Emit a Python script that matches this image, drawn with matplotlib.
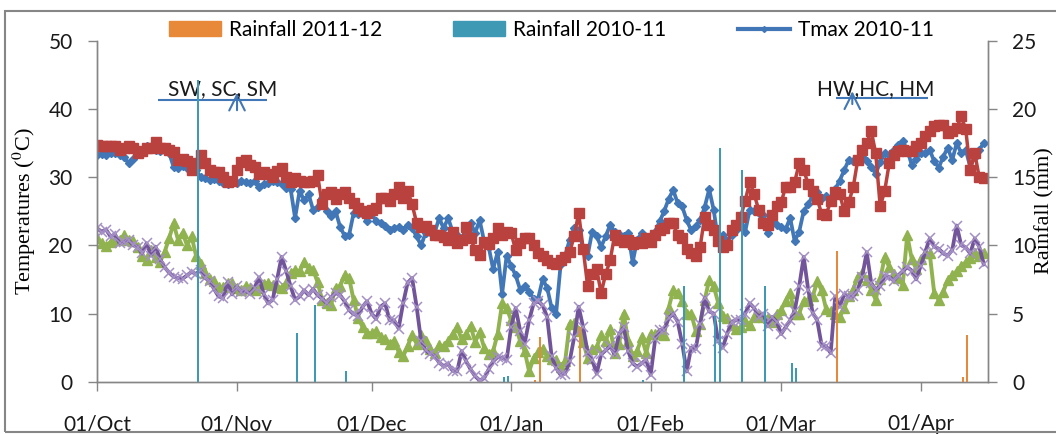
import numpy as np
import pandas as pd
import matplotlib
matplotlib.use('Agg')
import matplotlib.pyplot as plt
from matplotlib.patches import Patch, Rectangle
from matplotlib.lines import Line2D

plt.rcParams['font.family'] = ['Lato', 'DejaVu Sans']
plt.rcParams['mathtext.fontset'] = 'stix'

# day 0 = 01/Oct
start = pd.Timestamp('2011-10-01')
month_dates = ['2011-10-01', '2011-11-01', '2011-12-01', '2012-01-01',
               '2012-02-01', '2012-03-01', '2012-04-01']
month_labels = ['01/Oct', '01/Nov', '01/Dec', '01/Jan', '01/Feb', '01/Mar', '01/Apr']

tmax_1011 = [33.3, 33.4, 33.2, 33.5, 33.6, 33.2, 33.0, 32.0, 32.6, 33.5,
             34.0, 34.5, 34.2, 34.0, 33.8, 34.0, 33.6, 31.5, 31.4, 31.6,
             31.3, 31.2, 31.0, 30.0, 29.8, 29.6, 29.7, 29.4, 29.2, 29.0,
             29.3, 29.2, 29.4, 29.3, 29.2, 29.4, 28.6, 29.0, 29.2, 29.5,
             29.3, 29.0, 28.4, 28.3, 24.0, 28.0, 26.6, 27.5, 25.2, 25.6,
             27.0, 25.0, 24.3, 25.0, 22.7, 21.4, 21.5, 24.7, 24.6, 24.6,
             23.6, 24.7, 23.5, 23.2, 22.8, 22.3, 22.5, 22.7, 22.2, 23.0,
             22.5, 21.3, 20.0, 21.8, 22.0, 21.8, 24.0, 22.5, 24.0, 22.0,
             21.5, 21.0, 22.2, 23.3, 21.8, 23.7, 20.6, 19.8, 16.5, 19.0,
             12.9, 18.5, 17.0, 15.6, 13.5, 14.0, 13.2, 12.2, 12.2, 15.0,
             13.8, 10.8, 10.0, 17.2, 18.5, 20.8, 22.5, 22.3, 19.5, 18.5,
             22.0, 21.3, 19.8, 21.3, 23.0, 22.0, 21.7, 21.3, 21.8, 17.5,
             20.8, 21.8, 20.8, 21.3, 22.0, 23.5, 25.0, 26.8, 28.1, 26.2,
             25.7, 23.7, 22.2, 22.8, 23.7, 25.6, 28.2, 25.2, 20.7, 21.5,
             20.7, 21.5, 22.3, 24.0, 22.0, 25.2, 25.0, 24.8, 24.5, 21.8,
             23.5, 23.0, 22.7, 22.4, 24.0, 20.6, 22.0, 25.0, 26.0, 27.3,
             27.8, 27.0, 27.2, 27.0, 28.2, 29.5, 31.0, 32.5, 32.4, 32.8,
             34.0, 32.3, 31.5, 30.5, 32.2, 33.5, 33.3, 34.0, 34.7, 35.3,
             34.0, 31.8, 32.7, 33.5, 33.5, 34.0, 32.3, 31.4, 33.0, 34.3,
             32.5, 35.0, 33.5, 34.0, 31.5, 33.0, 34.0, 35.0]

tmax_1112 = [34.7, 34.6, 34.5, 34.6, 34.5, 34.0, 34.2, 34.6, 34.2, 33.6,
             33.8, 34.2, 34.3, 35.2, 34.2, 34.2, 34.0, 33.7, 32.5, 32.7,
             32.3, 31.0, 32.0, 33.2, 32.0, 31.0, 30.8, 30.8, 30.0, 29.3,
             29.5, 31.0, 32.2, 32.5, 31.8, 31.5, 30.5, 30.8, 30.4, 30.0,
             30.9, 31.3, 30.0, 29.3, 29.8, 29.5, 29.3, 29.3, 29.5, 30.3,
             26.0, 27.5, 27.8, 26.8, 27.5, 27.8, 27.0, 26.2, 25.4, 25.0,
             24.8, 25.2, 25.4, 26.9, 27.0, 26.5, 27.5, 28.5, 27.0, 28.0,
             26.0, 23.3, 22.7, 22.9, 22.3, 21.5, 21.5, 21.2, 20.8, 22.0,
             20.3, 20.8, 22.7, 21.0, 19.3, 18.6, 20.5, 20.2, 21.0, 22.5,
             21.5, 22.0, 21.8, 19.3, 20.3, 21.0, 21.0, 20.0, 18.8, 18.4,
             17.8, 17.4, 17.2, 17.8, 18.3, 19.0, 21.3, 24.7, 19.5, 14.0,
             15.8, 16.5, 13.0, 15.8, 17.8, 21.5, 20.8, 20.5, 20.8, 20.2,
             20.5, 20.3, 21.0, 20.5, 21.5, 22.3, 22.6, 23.2, 23.2, 21.5,
             21.0, 19.5, 18.8, 18.4, 19.8, 24.2, 23.0, 22.2, 20.7, 19.8,
             20.0, 22.3, 23.0, 24.2, 26.5, 29.3, 27.5, 25.2, 23.2, 23.0,
             24.5, 25.8, 26.3, 28.6, 28.6, 29.3, 32.0, 31.0, 29.0, 28.0,
             26.8, 24.6, 24.5, 26.5, 27.8, 27.5, 25.0, 26.3, 28.5, 32.5,
             34.0, 35.0, 36.8, 33.5, 25.7, 28.0, 32.0, 33.2, 33.8, 34.0,
             33.8, 33.8, 34.5, 35.0, 36.0, 36.7, 37.5, 37.6, 37.6, 36.5,
             36.8, 37.2, 38.9, 37.0, 31.0, 33.5, 30.0, 29.8]

tmin_1011 = [21.0, 20.3, 19.9, 20.5, 20.8, 20.8, 21.5, 20.8, 20.6, 19.8,
             18.5, 17.8, 19.3, 18.3, 17.6, 19.0, 21.0, 23.2, 20.8, 21.8,
             20.0, 21.3, 18.5, 17.2, 15.9, 15.0, 14.8, 13.9, 13.9, 14.4,
             14.5, 13.8, 13.4, 14.0, 13.7, 13.4, 13.8, 14.3, 14.5, 14.2,
             13.9, 13.8, 14.5, 15.9, 16.4, 16.2, 17.6, 16.7, 16.4, 14.6,
             12.0, 11.5, 11.3, 13.8, 14.0, 15.6, 15.2, 12.0, 9.4, 8.0,
             7.1, 7.1, 7.5, 6.6, 6.2, 5.6, 6.0, 4.4, 3.7, 5.2,
             6.8, 5.6, 6.8, 6.0, 4.8, 4.2, 5.4, 5.2, 6.0, 7.0,
             8.0, 6.2, 7.0, 8.2, 5.8, 7.3, 5.0, 4.0, 4.5, 7.0,
             11.5, 10.8, 9.0, 8.0, 6.0, 4.5, 1.5, 3.5, 4.3, 4.8,
             3.7, 3.4, 3.2, 2.2, 3.0, 8.5, 8.6, 7.4, 5.8, 3.5,
             4.8, 5.1, 6.8, 6.0, 7.8, 4.2, 5.5, 10.0, 6.0, 3.7,
             4.5, 6.5, 4.2, 7.0, 7.0, 7.0, 6.8, 10.8, 13.4, 13.0,
             11.9, 10.0, 10.0, 7.5, 8.4, 12.0, 14.9, 14.0, 11.6, 9.6,
             9.4, 8.3, 7.7, 8.0, 8.9, 8.3, 9.5, 9.8, 9.5, 9.4,
             8.7, 10.0, 10.5, 11.9, 13.0, 10.0, 10.0, 11.9, 12.0, 12.5,
             14.7, 13.4, 10.6, 10.3, 10.0, 9.5, 10.8, 12.5, 13.5, 15.4,
             16.0, 14.9, 13.5, 12.0, 15.0, 18.3, 16.8, 15.8, 15.2, 14.2,
             21.5, 18.0, 16.5, 18.0, 18.8, 18.8, 13.0, 12.0, 13.2, 14.9,
             15.6, 16.2, 17.0, 17.5, 18.2, 18.8, 18.5, 18.8]

tmin_1112 = [22.5, 22.0, 22.3, 21.3, 21.6, 20.3, 20.5, 20.8, 20.0, 19.8,
             18.8, 20.3, 18.5, 19.8, 18.0, 16.8, 16.0, 15.4, 15.2, 15.1,
             15.6, 16.1, 15.8, 16.4, 15.2, 14.8, 13.6, 12.5, 12.3, 14.6,
             12.8, 14.0, 13.2, 13.3, 12.9, 13.8, 15.3, 12.9, 11.5, 12.0,
             15.0, 18.3, 16.3, 14.0, 12.0, 12.5, 13.4, 12.7, 13.6, 12.7,
             12.2, 11.5, 12.4, 13.0, 12.7, 11.8, 10.5, 9.9, 9.7, 11.0,
             11.8, 10.0, 9.2, 11.0, 11.5, 9.0, 9.0, 7.8, 11.5, 14.5,
             15.2, 11.0, 6.0, 4.6, 4.1, 3.8, 2.8, 2.3, 2.6, 1.6,
             1.5, 4.5, 3.0, 1.8, 0.8, 0.2, 0.5, 1.8, 3.0, 3.6,
             3.5, 3.2, 8.0, 10.8, 7.5, 5.6, 9.0, 11.5, 11.8, 11.2,
             9.5, 3.7, 2.0, 1.0, 1.2, 3.0, 6.5, 11.0, 8.0, 4.3,
             3.2, 1.2, 4.0, 4.6, 5.2, 4.0, 7.0, 8.0, 4.5, 2.7,
             2.2, 2.7, 3.2, 1.0, 6.2, 7.6, 7.6, 9.3, 10.0, 8.8,
             5.6, 1.5, 5.0, 4.8, 8.5, 12.3, 10.3, 10.0, 6.0, 5.0,
             7.0, 8.8, 9.0, 9.0, 10.0, 11.5, 10.8, 9.5, 10.0, 8.2,
             9.5, 8.8, 7.0, 8.0, 9.0, 10.4, 14.0, 18.3, 13.5, 10.1,
             9.0, 5.3, 5.2, 4.2, 12.5, 11.0, 12.8, 12.5, 12.5, 13.5,
             15.4, 19.0, 14.5, 13.5, 14.0, 15.5, 15.4, 14.8, 15.6, 16.2,
             16.8, 16.3, 15.0, 17.0, 19.0, 21.0, 19.8, 19.5, 18.8, 18.5,
             19.3, 22.9, 20.0, 19.7, 18.8, 21.0, 19.8, 17.2]

# rainfall (mm), day number and amount
rain_1011_days = [22, 44, 48, 55, 90, 91, 121, 130, 137, 138, 143, 148, 154, 155]
rain_1011 = [22.1, 3.6, 5.6, 0.8, 0.35, 0.4, 0.1, 7.0, 4.8, 17.1, 15.5, 7.0, 1.35, 1.0]
rain_1112_days = [97, 98, 107, 164, 192, 193]
rain_1112 = [0.1, 3.3, 4.0, 9.6, 0.35, 3.4]

days = np.arange(len(tmax_1011))
tick_pos = [(pd.Timestamp(d) - start).days for d in month_dates]

c_blue = '#4177B6'
c_red = '#B9423F'
c_green = '#90B24F'
c_purple = '#71549A'
c_orange = '#E8893A'
c_teal = '#3E9AB4'
c_grid = '#868686'

fig = plt.figure(figsize=(10.56, 4.34), dpi=100)
ax = fig.add_axes([0.0919, 0.1205, 0.8435, 0.7857])
ax2 = ax.twinx()

ax.plot(days, tmax_1011, color=c_blue, lw=2.7, marker='D', ms=4.5, mec=c_blue)
ax.plot(days, tmax_1112, color=c_red, lw=2.5, marker='s', ms=6.8, mec=c_red)
ax.plot(days, tmin_1011, color=c_green, lw=2.8, marker='^', ms=7, mec=c_green)
ax.plot(days, tmin_1112, color=c_purple, lw=2.7, marker='x', ms=7.5, mec='#A590C6', mew=1.1)

ax2.bar(np.array(rain_1011_days) + 0.35, rain_1011, width=0.4, color=c_teal)
ax2.bar(np.array(rain_1112_days) + 0.35, rain_1112, width=0.4, color=c_orange)

ax.set_xlim(0, 197.9)
ax.set_ylim(0, 50)
ax2.set_ylim(0, 25)
ax.set_xticks(tick_pos)
ax.set_xticklabels(month_labels)
ax.set_yticks(range(0, 51, 10))
ax2.set_yticks(range(0, 26, 5))

for a in (ax, ax2):
    for s in a.spines.values():
        s.set_color(c_grid)
        s.set_linewidth(1.0)
    a.spines['top'].set_visible(False)
    a.tick_params(colors=c_grid, labelcolor='#1a1a1a', labelsize=15, length=6.5, width=1.0)
ax.tick_params(axis='y', pad=11)
ax2.tick_params(axis='y', pad=11)
ax.tick_params(axis='x', pad=17)

ax.set_ylabel(r'Temperatures ($^{0}$C)', fontfamily='Liberation Serif', fontsize=16)
ax.yaxis.set_label_coords(-0.066, 0.5)
ax2.set_ylabel('Rainfall (mm)', fontfamily='Liberation Serif', fontsize=16)
ax2.yaxis.set_label_coords(1.053, 0.503)

# stage annotations
ax.hlines(41.3, 13.6, 37.8, color=c_blue, lw=1.5)
ax.annotate('', xy=(31.1, 42.8), xytext=(31.1, 39.4),
            arrowprops=dict(arrowstyle='->', color=c_blue, lw=1.5, mutation_scale=28))
ax.text(27.9, 42.9, 'SW, SC, SM', ha='center', va='center', fontsize=15, color='#1a1a1a')
ax.hlines(41.6, 164.2, 184.7, color=c_blue, lw=1.5)
ax.annotate('', xy=(167.8, 43.0), xytext=(167.8, 40.3),
            arrowprops=dict(arrowstyle='->', color=c_blue, lw=1.5, mutation_scale=28))
ax.text(172.9, 42.9, 'HW,HC, HM', ha='center', va='center', fontsize=15, color='#1a1a1a')

handles = [Patch(color=c_orange), Patch(color=c_teal),
           Line2D([], [], color=c_blue, lw=3, marker='D', ms=3)]
fig.legend(handles, ['Rainfall 2011-12', 'Rainfall 2010-11', 'Tmax 2010-11'],
           loc='center', bbox_to_anchor=(0.522, 0.931), ncol=3, frameon=False,
           fontsize=15, handlelength=2.5, handleheight=0.7, columnspacing=3.4,
           handletextpad=0.4)

fig.patches.append(Rectangle((0.0047, 0.005), 1.0, 0.9697, transform=fig.transFigure,
                             fill=False, edgecolor=c_grid, lw=1.5))

fig.savefig('out.png', dpi=100)
